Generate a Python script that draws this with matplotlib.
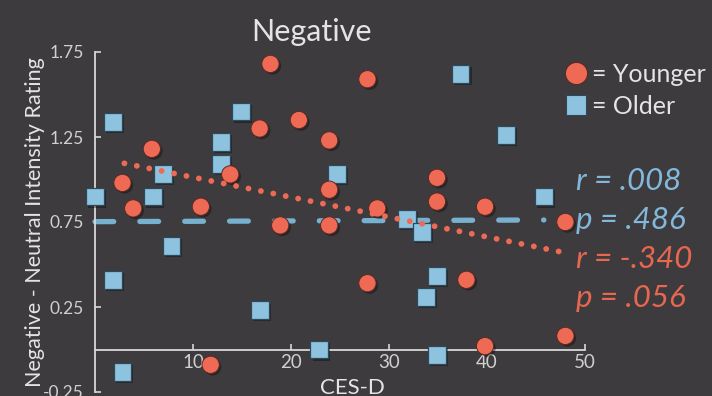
#!/usr/bin/env python3
"""Negative - Neutral intensity rating vs CES-D, younger vs older adults."""

import matplotlib

matplotlib.use("Agg")
import matplotlib.patheffects as pe
import matplotlib.pyplot as plt
from matplotlib.lines import Line2D

# --- data ------------------------------------------------------------------
young_x = [2.8, 3.9, 5.8, 10.8, 11.8, 13.8, 16.8, 17.9, 18.9, 20.8, 23.9, 23.9,
           23.9, 27.8, 27.8, 28.8, 34.9, 34.9, 37.9, 39.8, 39.8, 48.0, 48.0]
young_y = [0.98, 0.83, 1.18, 0.84, -0.09, 1.03, 1.30, 1.68, 0.73, 1.35, 1.23,
           0.94, 0.73, 1.59, 0.39, 0.83, 1.01, 0.87, 0.41, 0.84, 0.02, 0.75, 0.08]

old_x = [0.0, 1.8, 1.8, 2.8, 5.9, 6.9, 7.8, 12.9, 12.9, 14.9, 16.8, 22.9,
         24.7, 31.8, 33.4, 33.8, 34.9, 34.9, 37.3, 41.9, 45.8]
old_y = [0.90, 1.34, 0.41, -0.13, 0.90, 1.03, 0.61, 1.22, 1.09, 1.40, 0.23,
         0.0, 1.03, 0.77, 0.69, 0.31, 0.43, -0.03, 1.62, 1.26, 0.90]

# fitted lines (endpoints)
young_fit_x = [3.0, 47.9]
young_fit_y = [1.095, 0.57]
old_fit_x = [0.0, 45.8]
old_fit_y = [0.752, 0.762]

stats_old = ["r = .008", "p = .486"]
stats_young = ["r = -.340", "p = .056"]

x_ticks = [10, 20, 30, 40, 50]
y_ticks = [-0.25, 0.25, 0.75, 1.25, 1.75]
y_tick_labels = ["-0.25", "0.25", "0.75", "1.25", "1.75"]

# --- style -------------------------------------------------------------------
BG = "#3d3b3e"
FG = "#e4e4e4"
RED = "#ee6a55"
BLUE = "#8ec3e0"
BLUE_LINE = "#78b0d0"
BLUE_TEXT = "#82b8da"
RED_TEXT = "#e8674f"

plt.rcParams["font.family"] = ["Lato", "DejaVu Sans"]

W, H = 712, 396
fig = plt.figure(figsize=(W / 100, H / 100), dpi=100, facecolor=BG)
# axes: x 0..50 -> px 95..585, y -0.25..1.75 -> px 392..52
ax = fig.add_axes([95 / W, (H - 392) / H, 490 / W, 340 / H], facecolor=BG)
ax.set_xlim(0, 50)
ax.set_ylim(-0.25, 1.75)

shadow = [pe.SimplePatchShadow(offset=(1.5, -1.5), shadow_rgbFace="black", alpha=0.35),
          pe.Normal()]

# trend lines
ax.plot(old_fit_x, old_fit_y, color=BLUE_LINE, lw=3.8, dashes=(3.55, 4.95),
        dash_capstyle="round", zorder=2, clip_on=False)
ax.plot(young_fit_x, young_fit_y, color=RED, lw=4.2, linestyle=(0, (0.01, 2.16)),
        dash_capstyle="round", zorder=4, clip_on=False)

sq = ax.scatter(old_x, old_y, marker="s", s=165, color=BLUE, edgecolors="#2e4a5a",
                linewidths=0.9, zorder=3, clip_on=False)
sq.set_path_effects(shadow)
ci = ax.scatter(young_x, young_y, marker="o", s=155, color=RED, edgecolors="#5a2a22",
                linewidths=0.7, zorder=3, clip_on=False)
ci.set_path_effects(shadow)

# spines / ticks
for side in ("top", "right"):
    ax.spines[side].set_visible(False)
ax.spines["left"].set_color("#d8d8d8")
ax.spines["left"].set_linewidth(1.3)
ax.spines["bottom"].set_position(("data", 0))
ax.spines["bottom"].set_color("#d8d8d8")
ax.spines["bottom"].set_linewidth(1.3)

ax.set_xticks(x_ticks)
ax.set_yticks(y_ticks)
ax.set_yticklabels(y_tick_labels)
ax.tick_params(axis="both", direction="in", length=4, width=1.2, color="#d8d8d8",
               labelcolor="#d0d0d0")
ax.tick_params(axis="y", labelsize=12.5, pad=8)
ax.tick_params(axis="x", labelsize=13.5, pad=3)

ax.set_xlabel("CES-D", color=FG, fontsize=16)
ax.xaxis.set_label_coords(0.525, 0.04)
ax.set_ylabel("Negative - Neutral Intensity Rating", color=FG, fontsize=15.5)
ax.yaxis.set_label_coords(-0.102, 0.5)

fig.text(311 / W, 1 - 32 / H, "Negative", color=FG, fontsize=22,
         ha="center", va="center")

# legend
handles = [
    Line2D([], [], marker="o", ls="", ms=16, mfc=RED, mec="#5a2a22", mew=0.8),
    Line2D([], [], marker="s", ls="", ms=15, mfc=BLUE, mec="#2e4a5a", mew=0.8),
]
leg = fig.legend(handles, ["= Younger", "= Older"], loc="upper left",
                 bbox_to_anchor=(547 / W, 1 - 50 / H), frameon=False,
                 fontsize=18, labelcolor=FG, handletextpad=0.0,
                 handlelength=1.3, labelspacing=0.38, borderpad=0)

# correlation stats
for i, s in enumerate(stats_old):
    fig.text(576 / W, 1 - (181 + 39 * i) / H, s, color=BLUE_TEXT,
             fontsize=22.5, ha="left", va="center", style="italic")
for i, s in enumerate(stats_young):
    fig.text(576 / W, 1 - (259 + 39 * i) / H, s, color=RED_TEXT,
             fontsize=22.5, ha="left", va="center", style="italic")

fig.savefig("out.png", dpi=100, facecolor=BG)
